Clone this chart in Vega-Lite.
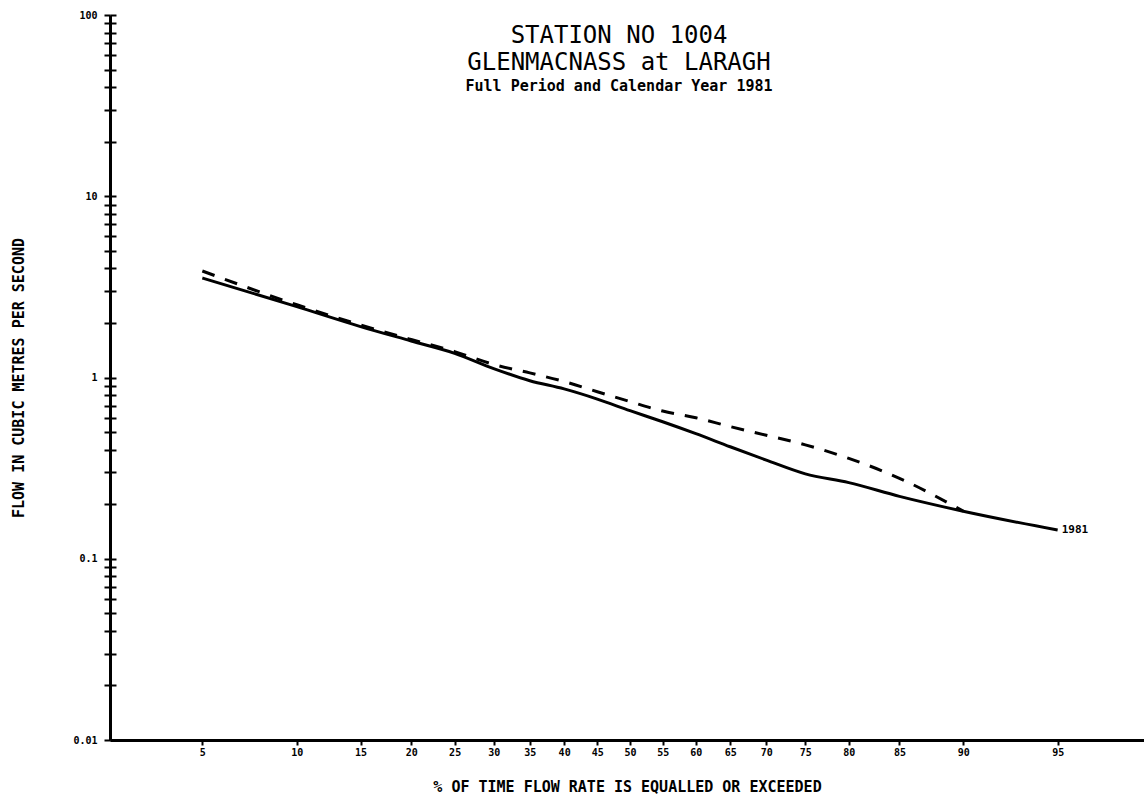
{
  "$schema": "https://vega.github.io/schema/vega-lite/v6.json",
  "width": 1034,
  "height": 725,
  "autosize": {"type": "none"},
  "padding": {"left": 110, "top": 15, "right": 0, "bottom": 70},
  "background": "white",
  "config": {"view": {"stroke": null}, "font": "DejaVu Sans Mono"},
  "title": {
    "text": ["STATION NO 1004", "GLENMACNASS at LARAGH"],
    "subtitle": "Full Period and Calendar Year 1981",
    "anchor": "middle",
    "frame": "group",
    "offset": -84,
    "dx": -8,
    "font": "DejaVu Sans Mono",
    "fontSize": 24,
    "fontWeight": "normal",
    "lineHeight": 27,
    "color": "black",
    "subtitleFont": "DejaVu Sans Mono",
    "subtitleFontSize": 15,
    "subtitleFontWeight": "bold",
    "subtitleColor": "black",
    "subtitlePadding": 4
  },
  "data": {
    "values": [
      {"series": "1981", "pct": 5, "flow": 3.54},
      {"series": "1981", "pct": 10, "flow": 2.46},
      {"series": "1981", "pct": 15, "flow": 1.91},
      {"series": "1981", "pct": 20, "flow": 1.59},
      {"series": "1981", "pct": 25, "flow": 1.36},
      {"series": "1981", "pct": 30, "flow": 1.12},
      {"series": "1981", "pct": 35, "flow": 0.96},
      {"series": "1981", "pct": 40, "flow": 0.865},
      {"series": "1981", "pct": 45, "flow": 0.76},
      {"series": "1981", "pct": 50, "flow": 0.656},
      {"series": "1981", "pct": 55, "flow": 0.57},
      {"series": "1981", "pct": 60, "flow": 0.49},
      {"series": "1981", "pct": 65, "flow": 0.415},
      {"series": "1981", "pct": 70, "flow": 0.35},
      {"series": "1981", "pct": 75, "flow": 0.294},
      {"series": "1981", "pct": 80, "flow": 0.263},
      {"series": "1981", "pct": 85, "flow": 0.221},
      {"series": "1981", "pct": 90, "flow": 0.183},
      {"series": "1981", "pct": 95, "flow": 0.144},
      {"series": "Full Period", "pct": 5, "flow": 3.87},
      {"series": "Full Period", "pct": 10, "flow": 2.52},
      {"series": "Full Period", "pct": 15, "flow": 1.95},
      {"series": "Full Period", "pct": 20, "flow": 1.62},
      {"series": "Full Period", "pct": 25, "flow": 1.39},
      {"series": "Full Period", "pct": 30, "flow": 1.18},
      {"series": "Full Period", "pct": 35, "flow": 1.06},
      {"series": "Full Period", "pct": 40, "flow": 0.95},
      {"series": "Full Period", "pct": 45, "flow": 0.835},
      {"series": "Full Period", "pct": 50, "flow": 0.736},
      {"series": "Full Period", "pct": 55, "flow": 0.653},
      {"series": "Full Period", "pct": 60, "flow": 0.6},
      {"series": "Full Period", "pct": 65, "flow": 0.536},
      {"series": "Full Period", "pct": 70, "flow": 0.48},
      {"series": "Full Period", "pct": 75, "flow": 0.425},
      {"series": "Full Period", "pct": 80, "flow": 0.358},
      {"series": "Full Period", "pct": 85, "flow": 0.278},
      {"series": "Full Period", "pct": 90, "flow": 0.183}
    ]
  },
  "transform": [{"calculate": "quantileNormal(datum.pct / 100)", "as": "z"}],
  "layer": [
    {
      "transform": [{"filter": "datum.series === '1981'"}],
      "mark": {"type": "line", "color": "black", "strokeWidth": 3, "interpolate": "monotone"},
      "encoding": {
        "x": {
          "field": "z", "type": "quantitative",
          "scale": {"domain": [-2, 1.977], "nice": false, "zero": false},
          "axis": {
            "values": [-1.644854, -1.281552, -1.036433, -0.841621, -0.67449, -0.524401, -0.38532, -0.253347, -0.125661, 0, 0.125661, 0.253347, 0.38532, 0.524401, 0.67449, 0.841621, 1.036433, 1.281552, 1.644854],
            "labelExpr": "format(cumulativeNormal(datum.value) * 100, '.0f')",
            "title": "% OF TIME FLOW RATE IS EQUALLED OR EXCEEDED",
            "grid": false,
            "domainColor": "black", "domainWidth": 3,
            "tickColor": "black", "tickSize": 5, "tickWidth": 2,
            "labelFont": "DejaVu Sans Mono", "labelFontWeight": "bold", "labelFontSize": 10,
            "labelColor": "black", "labelPadding": 2, "labelOverlap": false, "labelFlush": false,
            "titleFont": "DejaVu Sans Mono", "titleFontSize": 15, "titleFontWeight": "bold",
            "titleColor": "black", "titlePadding": 22
          }
        },
        "y": {
          "field": "flow", "type": "quantitative",
          "scale": {"type": "log", "domain": [0.01, 100], "nice": false},
          "axis": {
            "values": [0.01, 0.02, 0.03, 0.04, 0.05, 0.06, 0.07, 0.08, 0.09, 0.1, 0.2, 0.3, 0.4, 0.5, 0.6, 0.7, 0.8, 0.9, 1, 2, 3, 4, 5, 6, 7, 8, 9, 10, 20, 30, 40, 50, 60, 70, 80, 90, 100],
            "format": "~g",
            "labelExpr": "indexof(['0.01', '0.1', '1', '10', '100'], datum.label) >= 0 ? datum.label : ''",
            "title": "FLOW IN CUBIC METRES PER SECOND",
            "grid": false,
            "domainColor": "black", "domainWidth": 3,
            "tickColor": "black", "tickSize": 6, "tickWidth": 2,
            "labelFont": "DejaVu Sans Mono", "labelFontWeight": "bold", "labelFontSize": 10,
            "labelColor": "black", "labelPadding": 7, "labelOverlap": false, "labelFlush": false,
            "titleFont": "DejaVu Sans Mono", "titleFontSize": 15, "titleFontWeight": "bold",
            "titleColor": "black", "titlePadding": 46
          }
        }
      }
    },
    {
      "transform": [{"filter": "datum.series === 'Full Period'"}],
      "mark": {"type": "line", "color": "black", "strokeWidth": 3, "strokeDash": [13, 11], "interpolate": "monotone"},
      "encoding": {
        "x": {"field": "z", "type": "quantitative"},
        "y": {
          "field": "flow", "type": "quantitative",
          "scale": {"type": "log", "domain": [0.01, 100], "nice": false},
          "axis": {
            "orient": "right",
            "offset": -1034,
            "values": [0.01, 0.02, 0.03, 0.04, 0.05, 0.06, 0.07, 0.08, 0.09, 0.1, 0.2, 0.3, 0.4, 0.5, 0.6, 0.7, 0.8, 0.9, 1, 2, 3, 4, 5, 6, 7, 8, 9, 10, 20, 30, 40, 50, 60, 70, 80, 90, 100],
            "labels": false, "domain": false, "grid": false, "title": null,
            "tickColor": "black", "tickSize": 6, "tickWidth": 2
          }
        }
      }
    },
    {
      "transform": [{"filter": "datum.series === '1981' && datum.pct === 95"}],
      "mark": {"type": "text", "align": "left", "baseline": "middle", "dx": 4, "font": "DejaVu Sans Mono", "fontWeight": "bold", "fontSize": 11, "color": "black"},
      "encoding": {
        "x": {"field": "z", "type": "quantitative"},
        "y": {
          "field": "flow", "type": "quantitative",
          "scale": {"type": "log", "domain": [0.01, 100], "nice": false},
          "axis": null
        },
        "text": {"field": "series"}
      }
    }
  ],
  "resolve": {"scale": {"y": "independent"}, "axis": {"y": "independent"}}
}
